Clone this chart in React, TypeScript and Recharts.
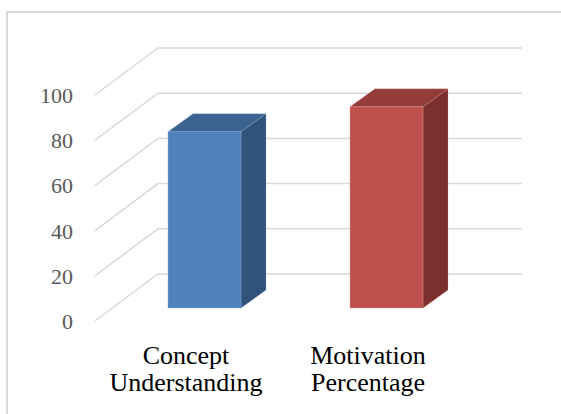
import React from 'react';
import { BarChart, Bar, XAxis, YAxis, CartesianGrid } from 'recharts';

const categories = ['Concept Understanding', 'Motivation Percentage'];
const values = [78, 89];
const yTicks = [0, 20, 40, 60, 80, 100];
const frontColors = ['#4f81bd', '#c0504d'];
const topColors = ['#3d6491', '#933c39'];
const sideColors = ['#31527a', '#7b302e'];
const edgeColors = ['#8fb0d8', '#e09a98'];

const data = categories.map((name, i) => ({ name, value: values[i], idx: i }));

const FONT = '"Liberation Serif", "Times New Roman", serif';
const DX = 63;
const DY = -47;
const BAR_OFF_X = 18;
const BAR_OFF_Y = -13;
const BAR_DX = 25;
const BAR_DY = -18;

function gridLine(props: any) {
  const { x1, y1, x2, index } = props;
  const d = `M${x1},${y1} L${x1 + DX},${y1 + DY} L${x2 + DX},${y1 + DY}`;
  return <path key={`g-${index}`} d={d} fill="none" stroke="#d9d9d9" strokeWidth={1.5} />;
}

function Box3D(props: any) {
  const { x, y, width, height, index } = props;
  const i = props.payload && typeof props.payload.idx === 'number' ? props.payload.idx : index;
  const fx = x + BAR_OFF_X;
  const fy = y + BAR_OFF_Y;
  const top = `M${fx},${fy} L${fx + BAR_DX},${fy + BAR_DY} L${fx + width + BAR_DX},${fy + BAR_DY} L${fx + width},${fy} Z`;
  const side = `M${fx + width},${fy} L${fx + width + BAR_DX},${fy + BAR_DY} L${fx + width + BAR_DX},${fy + height + BAR_DY} L${fx + width},${fy + height} Z`;
  return (
    <g>
      <path d={side} fill={sideColors[i]} stroke={edgeColors[i]} strokeOpacity={0.35} strokeWidth={0.75} />
      <path d={top} fill={topColors[i]} stroke={edgeColors[i]} strokeOpacity={0.35} strokeWidth={0.75} />
      <rect x={fx} y={fy} width={width} height={height} fill={frontColors[i]} stroke={edgeColors[i]} strokeOpacity={0.5} strokeWidth={0.75} />
    </g>
  );
}

function CatTick(props: any) {
  const { x, y, payload } = props;
  const words = String(payload.value).split(' ');
  return (
    <text x={x} textAnchor="middle" style={{ fontFamily: FONT }} fontSize={26} fill="#000000">
      {words.map((w, k) => (
        <tspan key={k} x={x} y={y + 43 + k * 27}>
          {w}
        </tspan>
      ))}
    </text>
  );
}

function ValTick(props: any) {
  const { x, y, payload } = props;
  return (
    <text x={x} y={y} dy="0.36em" textAnchor="end" style={{ fontFamily: FONT }} fontSize={22} fill="#595959">
      {payload.value}
    </text>
  );
}

export default function App() {
  return (
    <div style={{ position: 'fixed', left: 0, top: 0, width: 561, height: 414, overflow: 'hidden', background: '#ffffff' }}>
      <div
        style={{
          position: 'absolute',
          left: 6,
          top: 11,
          width: 700,
          height: 600,
          border: '2px solid #d9d9d9',
          boxSizing: 'border-box',
        }}
      />
      <div style={{ position: 'absolute', left: 0, top: 0 }}>
        <BarChart
          width={561}
          height={414}
          data={data}
          margin={{ top: 95, right: 102, bottom: 0, left: 0 }}
          barCategoryGap={0}
        >
          <CartesianGrid vertical={false} horizontal={gridLine} />
          <XAxis
            dataKey="name"
            type="category"
            axisLine={false}
            tickLine={false}
            tickSize={0}
            tickMargin={0}
            height={93}
            interval={0}
            tick={<CatTick />}
          />
          <YAxis
            type="number"
            domain={[0, 100]}
            ticks={yTicks}
            axisLine={false}
            tickLine={false}
            tickSize={0}
            tickMargin={22}
            width={95}
            interval={0}
            tick={<ValTick />}
          />
          <Bar dataKey="value" barSize={73} isAnimationActive={false} shape={<Box3D />} />
        </BarChart>
      </div>
    </div>
  );
}
